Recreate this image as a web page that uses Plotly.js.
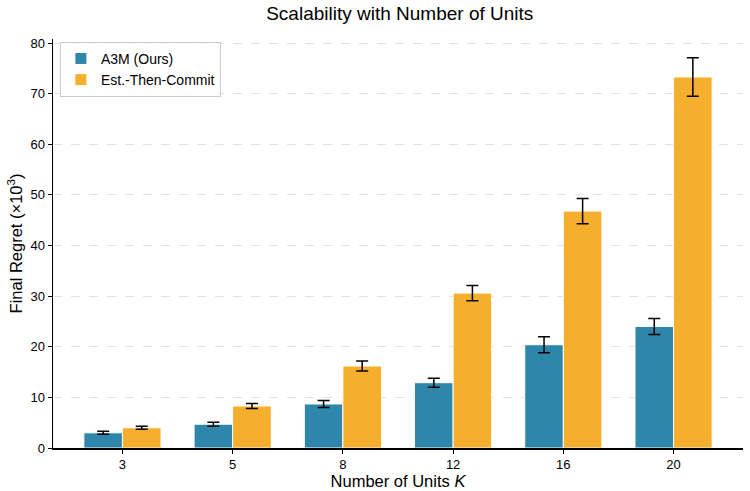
<!DOCTYPE html>
<html>
<head>
<meta charset="utf-8">
<script src="https://cdn.plot.ly/plotly-3.0.1.min.js"></script>
<style>
  html, body { margin: 0; padding: 0; background: #fff; }
  #chart { width: 750px; height: 491px; }
</style>
</head>
<body>
<div id="chart"></div>
<script>
// Number of units K
const unitCounts = ['3', '5', '8', '12', '16', '20'];

// Final regret (x10^3), mean and standard error
const a3mRegret = [3.0, 4.7, 8.7, 12.9, 20.4, 24.0];
const a3mError  = [0.3, 0.4, 0.7, 0.9, 1.6, 1.6];
const etcRegret = [4.0, 8.3, 16.2, 30.6, 46.8, 73.3];
const etcError  = [0.3, 0.5, 1.0, 1.5, 2.5, 3.8];

const seriesNames = ['A3M (Ours)', 'Est.-Then-Commit'];
const seriesColors = ['#2E86AB', '#F6AE2D'];

const font = '"Liberation Sans", Arial, Helvetica, sans-serif';

function barTrace(name, y, err, color) {
  return {
    type: 'bar',
    name: name,
    x: unitCounts,
    y: y,
    marker: { color: color, line: { color: '#ffffff', width: 1 } },
    error_y: { type: 'data', array: err, visible: true, color: '#000000', thickness: 1.5, width: 6 },
    hoverinfo: 'x+y'
  };
}

const data = [
  barTrace(seriesNames[0], a3mRegret, a3mError, seriesColors[0]),
  barTrace(seriesNames[1], etcRegret, etcError, seriesColors[1])
];

const layout = {
  width: 750,
  height: 491,
  margin: { l: 53, r: 7, t: 39, b: 43 },
  paper_bgcolor: '#ffffff',
  plot_bgcolor: '#ffffff',
  font: { family: font, color: '#000000', size: 13 },
  barmode: 'group',
  bargap: 0.3,
  bargroupgap: 0,
  title: {
    text: 'Scalability with Number of Units',
    font: { family: font, size: 19, color: '#000000' },
    x: 0.533, xanchor: 'center',
    y: 0.973, yanchor: 'middle'
  },
  xaxis: {
    type: 'category',
    range: [-0.63, 5.63],
    showline: true, linecolor: '#000000', linewidth: 1.5,
    ticks: 'outside', ticklen: 4, tickwidth: 1, tickcolor: '#000000',
    showgrid: false, zeroline: false,
    tickfont: { family: font, size: 13 },
    title: { text: 'Number of Units <i>K</i>', font: { family: font, size: 16.5 }, standoff: 4 }
  },
  yaxis: {
    range: [0, 80.8],
    dtick: 10,
    showline: true, linecolor: '#000000', linewidth: 1.5,
    ticks: 'outside', ticklen: 4, tickwidth: 1, tickcolor: '#000000',
    showgrid: true, gridcolor: '#e2e2e2', gridwidth: 1, griddash: 'dash',
    zeroline: false,
    tickfont: { family: font, size: 13 },
    title: { text: 'Final Regret (×10<sup>3</sup>)', font: { family: font, size: 16.5 }, standoff: 3 }
  },
  showlegend: true,
  legend: {
    x: 0.01, y: 0.993, xanchor: 'left', yanchor: 'top',
    bgcolor: 'rgba(255,255,255,0.9)',
    bordercolor: '#cccccc', borderwidth: 1,
    font: { family: font, size: 14 },
    tracegroupgap: 1
  }
};

Plotly.newPlot('chart', data, layout, { displayModeBar: false, staticPlot: true });
</script>
</body>
</html>
